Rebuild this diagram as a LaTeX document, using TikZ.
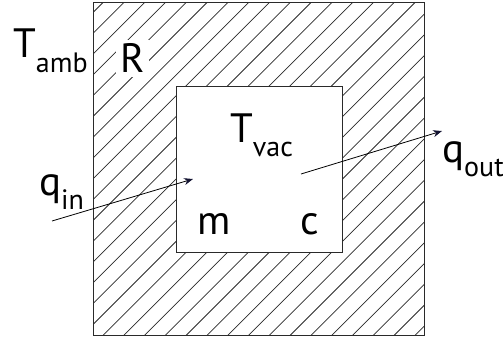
\documentclass[tikz,border=0pt]{standalone}
\usepackage{fontspec}
\setmainfont{PT Sans}
\usetikzlibrary{arrows.meta}
\definecolor{tipnavy}{HTML}{141433}
\definecolor{linegray}{HTML}{2A2A2A}
\tikzset{
  box/.style={draw=linegray, line width=1pt, inner sep=0pt},
  hatch/.style={draw=linegray, line width=0.75pt},
  lbl/.style={anchor=base west, inner sep=0pt, font=\fontsize{41}{41}\selectfont},
  flow/.style={draw=black, line width=0.8pt, -{Stealth[length=9pt,width=7pt,color=tipnavy]}}
}
\newcommand{\sbs}[1]{\raisebox{-14pt}{\fontsize{28}{28}\selectfont #1}}
\begin{document}
\begin{tikzpicture}[x=1pt,y=-1pt]
\useasboundingbox (0,0) rectangle (503,337);
% hatching of the outer wall
\begin{scope}
  \clip (93,3) rectangle (424,335);
  \foreach \k in {-18,...,17} {
    \draw[hatch] ({438.3+20.8*\k-345},345) -- ({438.3+20.8*\k+5},-5);
  }
\end{scope}
\node[box, minimum width=331pt, minimum height=332pt] (outer) at (258.5,169) {};
\node[box, fill=white, minimum width=166pt, minimum height=166pt] (inner) at (259,169) {};
% labels
\node[lbl] (tamb) at (13,58) {T\sbs{amb}};
\node[lbl, fill=white, inner sep=4pt] (r) at (116,73) {R};
\node[lbl] (tvac) at (230,142) {T\sbs{vac}};
\node[lbl] (m) at (197,234) {m};
\node[lbl] (c) at (300,234) {c};
\node[lbl] (qin) at (39,195) {q\sbs{in}};
\node[lbl] (qout) at (442,162) {q\sbs{out}};
% heat flow arrows
\coordinate (inA) at (52,221);
\coordinate (inB) at (193,179);
\coordinate (outA) at (301,174);
\coordinate (outB) at (442,131);
\draw[flow] (inA) -- (inB);
\draw[flow] (outA) -- (outB);
\end{tikzpicture}
\end{document}
